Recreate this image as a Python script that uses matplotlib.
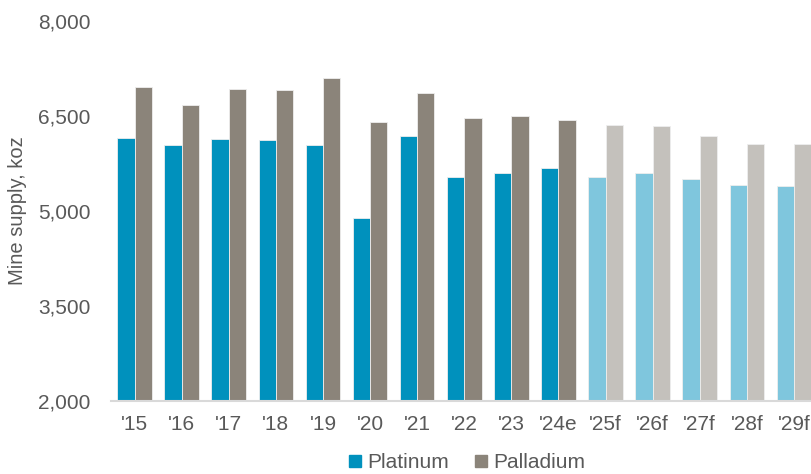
import matplotlib.pyplot as plt
import numpy as np
from matplotlib.lines import Line2D
from matplotlib.ticker import FuncFormatter

# Jahresangaben und Minenproduktion (koz)
jahre = ["'15", "'16", "'17", "'18", "'19", "'20", "'21", "'22", "'23", "'24e",
         "'25f", "'26f", "'27f", "'28f", "'29f"]
platin = [6160, 6050, 6140, 6125, 6050, 4895, 6185, 5540, 5595, 5675,
          5540, 5595, 5500, 5405, 5390]
palladium = [6960, 6680, 6920, 6905, 7095, 6410, 6870, 6475, 6495, 6430,
             6355, 6335, 6185, 6055, 6055]
anzahl_ist = 10   # ab '25f Prognose

plt.rcParams['font.family'] = ['Liberation Sans', 'DejaVu Sans']
textfarbe = '#595959'

pt_farben = ['#0091BD'] * anzahl_ist + ['#7FC6DD'] * (len(jahre) - anzahl_ist)
pd_farben = ['#8B847A'] * anzahl_ist + ['#C4C1BC'] * (len(jahre) - anzahl_ist)

fig = plt.figure(figsize=(8.12, 4.74), dpi=100)
ax = fig.add_axes([111 / 812, 73 / 474, 706.5 / 812, 380 / 474])

x = np.arange(len(jahre))
breite = 0.367
ax.bar(x - breite / 2, platin, breite, color=pt_farben, edgecolor='#EEEEEE', linewidth=0.6)
ax.bar(x + breite / 2, palladium, breite, color=pd_farben, edgecolor='#EEEEEE', linewidth=0.6)

ax.set_xlim(-0.5, len(jahre) - 0.5)
ax.set_ylim(2000, 8000)
ax.set_yticks([2000, 3500, 5000, 6500, 8000])
ax.yaxis.set_major_formatter(FuncFormatter(lambda v, p: f"{int(v):,}"))
ax.set_xticks(x)
ax.set_xticklabels(jahre)

ax.tick_params(axis='y', length=0, pad=15, labelsize=15, colors=textfarbe)
ax.tick_params(axis='x', length=0, pad=10, labelsize=15, colors=textfarbe)
for seite in ['top', 'right', 'left']:
    ax.spines[seite].set_visible(False)
ax.spines['bottom'].set_color('#D9D9D9')
ax.spines['bottom'].set_linewidth(1.5)

ax.set_ylabel("Mine supply, koz", fontsize=14.5, color=textfarbe, labelpad=8)

# Legende mit quadratischen Markern
griffe = [
    Line2D([], [], marker='s', linestyle='none', markersize=8, color='#0091BD', label='Platinum'),
    Line2D([], [], marker='s', linestyle='none', markersize=8, color='#8B847A', label='Palladium'),
]
fig.legend(handles=griffe, loc='center', bbox_to_anchor=(467 / 812, 1 - 463 / 474), ncol=2,
           frameon=False, fontsize=15, labelcolor=textfarbe, handlelength=0.6,
           handletextpad=0.3, columnspacing=1.2, borderpad=0)

plt.savefig('out.png', dpi=100)
